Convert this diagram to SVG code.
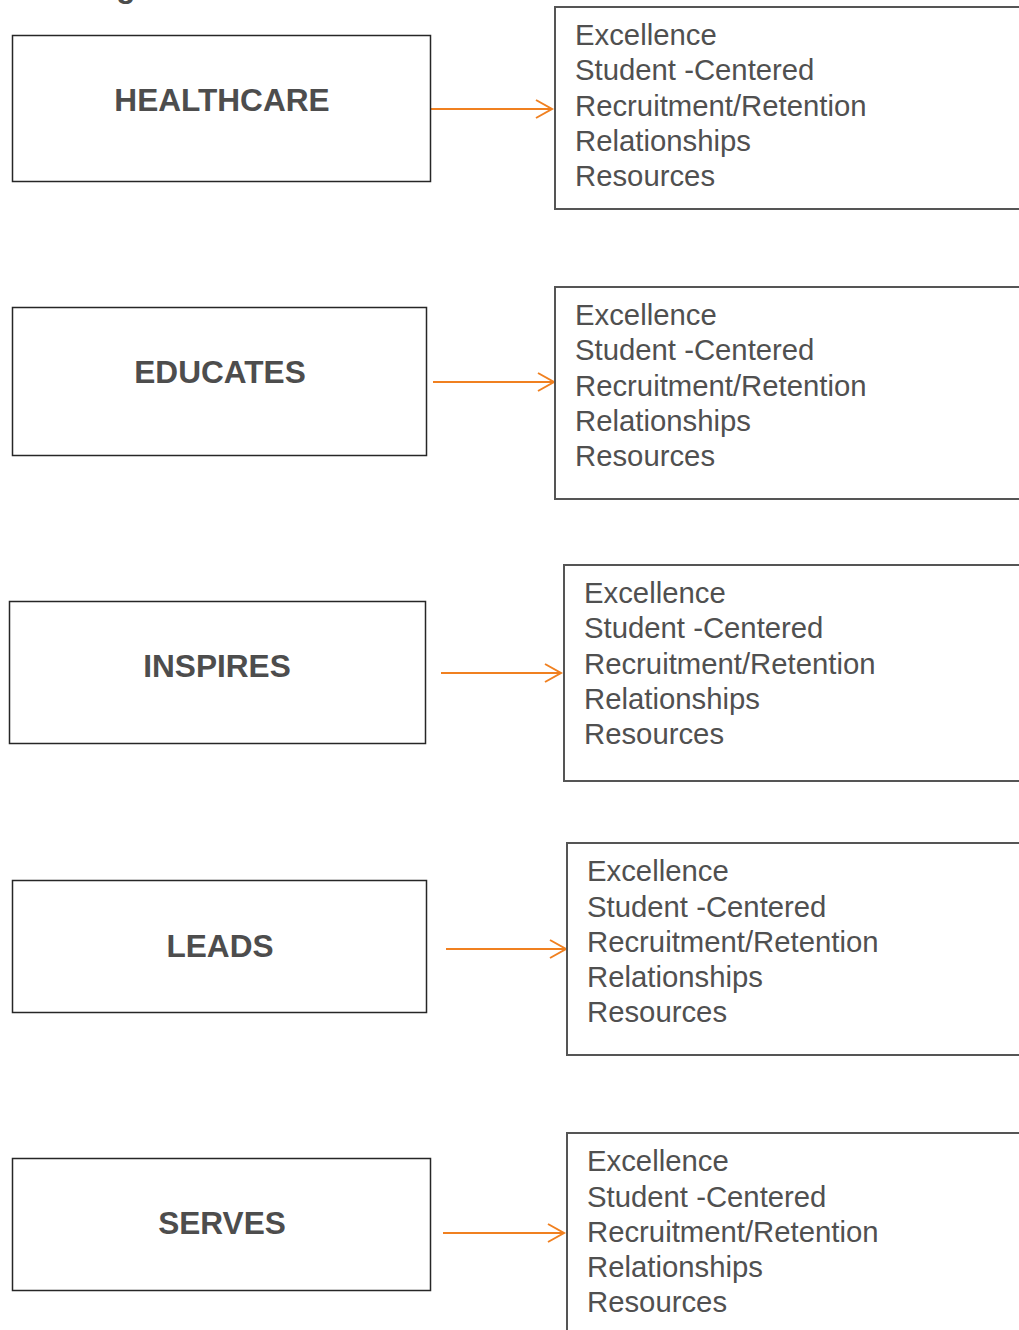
<svg xmlns="http://www.w3.org/2000/svg" width="1019" height="1330" viewBox="0 0 1019 1330">
  <style>
    .label { font-family: "Liberation Sans", Arial, sans-serif; font-weight: bold; font-size: 31.6px; fill: #4d4d4d; text-anchor: middle; }
    .list { font-family: "Liberation Sans", Arial, sans-serif; font-size: 29.3px; fill: #505050; }
    .key { fill: #ffffff; stroke: #262626; stroke-width: 1.5; }
    .values { fill: #ffffff; stroke: #555555; stroke-width: 2; }
    .link { fill: none; stroke: #f08020; stroke-width: 2; marker-end: url(#chevron); }
  </style>
  <defs>
    <marker id="chevron" markerUnits="userSpaceOnUse" markerWidth="24" markerHeight="24" viewBox="-20 -12 24 24" refX="0" refY="0" orient="auto">
      <path d="M-16,-9 L0,0 L-16,9" fill="none" stroke="#f08020" stroke-width="2"/>
    </marker>
  </defs>
  <rect width="1019" height="1330" fill="#ffffff"/>

  <!-- heading, clipped at the top edge -->
  <text class="label" x="126" y="-3">g</text>

  <!-- connectors -->
  <g id="connectors">
    <line class="link" x1="431" y1="109" x2="552" y2="109"/>
    <line class="link" x1="433" y1="382" x2="554" y2="382"/>
    <line class="link" x1="441" y1="673" x2="561" y2="673"/>
    <line class="link" x1="446" y1="949" x2="566" y2="949"/>
    <line class="link" x1="443" y1="1233" x2="564" y2="1233"/>
  </g>

  <!-- row 1 -->
  <g id="healthcare">
    <rect class="key" x="12.5" y="35.5" width="418" height="146"/>
    <text class="label" x="222" y="111">HEALTHCARE</text>
  </g>
  <g id="healthcare-values">
    <rect class="values" x="555" y="7" width="480" height="202"/>
    <text class="list"><tspan x="575" y="45">Excellence</tspan><tspan x="575" y="80">Student -Centered</tspan><tspan x="575" y="116">Recruitment/Retention</tspan><tspan x="575" y="151">Relationships</tspan><tspan x="575" y="186">Resources</tspan></text>
  </g>

  <!-- row 2 -->
  <g id="educates">
    <rect class="key" x="12.5" y="307.5" width="414" height="148"/>
    <text class="label" x="220" y="383">EDUCATES</text>
  </g>
  <g id="educates-values">
    <rect class="values" x="555" y="287" width="480" height="212"/>
    <text class="list"><tspan x="575" y="325">Excellence</tspan><tspan x="575" y="360">Student -Centered</tspan><tspan x="575" y="396">Recruitment/Retention</tspan><tspan x="575" y="431">Relationships</tspan><tspan x="575" y="466">Resources</tspan></text>
  </g>

  <!-- row 3 -->
  <g id="inspires">
    <rect class="key" x="9.5" y="601.5" width="416" height="142"/>
    <text class="label" x="217" y="677">INSPIRES</text>
  </g>
  <g id="inspires-values">
    <rect class="values" x="564" y="565" width="480" height="216"/>
    <text class="list"><tspan x="584" y="603">Excellence</tspan><tspan x="584" y="638">Student -Centered</tspan><tspan x="584" y="674">Recruitment/Retention</tspan><tspan x="584" y="709">Relationships</tspan><tspan x="584" y="744">Resources</tspan></text>
  </g>

  <!-- row 4 -->
  <g id="leads">
    <rect class="key" x="12.5" y="880.5" width="414" height="132"/>
    <text class="label" x="220" y="957">LEADS</text>
  </g>
  <g id="leads-values">
    <rect class="values" x="567" y="843" width="480" height="212"/>
    <text class="list"><tspan x="587" y="881">Excellence</tspan><tspan x="587" y="917">Student -Centered</tspan><tspan x="587" y="952">Recruitment/Retention</tspan><tspan x="587" y="987">Relationships</tspan><tspan x="587" y="1022">Resources</tspan></text>
  </g>

  <!-- row 5 -->
  <g id="serves">
    <rect class="key" x="12.5" y="1158.5" width="418" height="132"/>
    <text class="label" x="222" y="1234">SERVES</text>
  </g>
  <g id="serves-values">
    <rect class="values" x="567" y="1133" width="480" height="240"/>
    <text class="list"><tspan x="587" y="1171">Excellence</tspan><tspan x="587" y="1207">Student -Centered</tspan><tspan x="587" y="1242">Recruitment/Retention</tspan><tspan x="587" y="1277">Relationships</tspan><tspan x="587" y="1312">Resources</tspan></text>
  </g>
</svg>
